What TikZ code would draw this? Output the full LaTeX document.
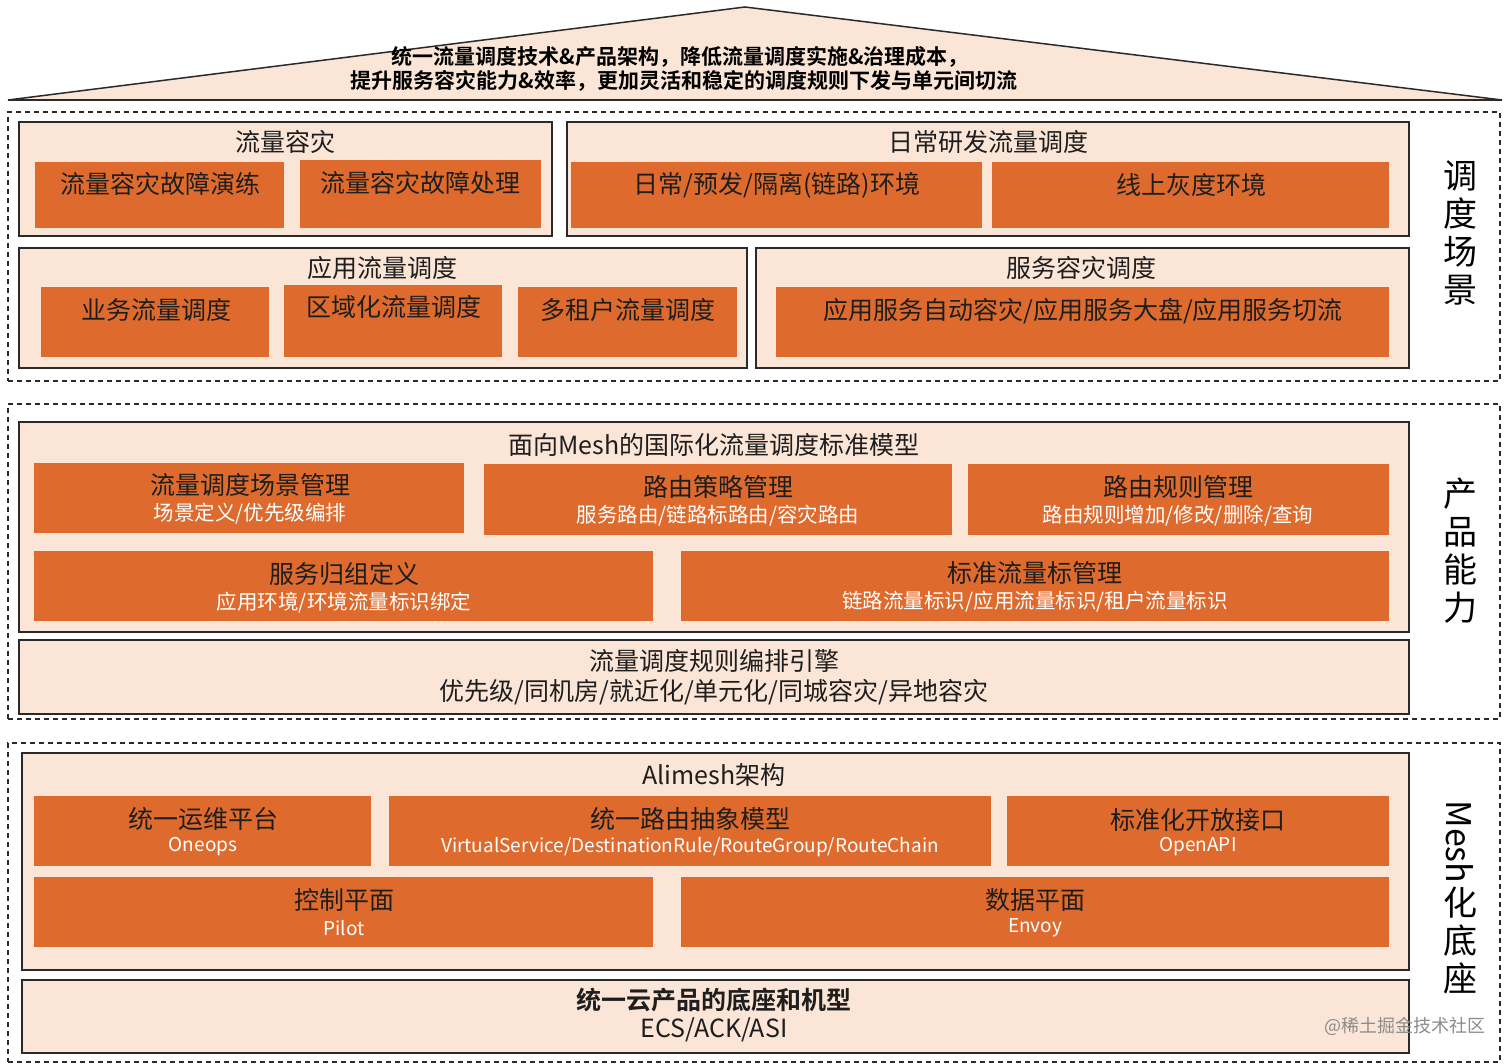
\documentclass[tikz,border=0pt]{standalone}
\usepackage{fontspec}
\setmainfont{Noto Sans CJK SC}[BoldFont={Noto Sans CJK SC Bold}]
\definecolor{peach}{HTML}{FBE5D6}
\definecolor{orng}{HTML}{DE6B2D}
\definecolor{txtdark}{HTML}{1E1E1E}
\definecolor{linegray}{HTML}{2A2A2A}
\newcommand\mybox[6]{\node[#2, anchor=north west, minimum width={#5pt-#3pt}, minimum height={#6pt-#4pt}] (#1) at (#3,#4) {};}
\begin{document}
\begin{tikzpicture}[x=1pt,y=-1pt,
  dbox/.style={draw=linegray, line width=1.3pt, dash pattern=on 5pt off 4pt, inner sep=0pt, outer sep=0pt},
  grp/.style={draw=linegray, line width=1.8pt, fill=peach, inner sep=0pt, outer sep=0pt},
  obox/.style={fill=orng, draw=none, inner sep=0pt, outer sep=0pt},
  ttl/.style={font=\fontsize{25}{29}\selectfont, text=txtdark, inner sep=0pt},
  mtx/.style={font=\fontsize{25}{29}\selectfont, text=txtdark, inner sep=0pt},
  stx/.style={font=\fontsize{20.5}{24}\selectfont, text=white, inner sep=0pt},
  stxl/.style={font=\fontsize{19}{23}\selectfont, text=white, inner sep=0pt},
  side/.style={font=\fontsize{34}{38}\selectfont, text=black, align=center, inner sep=0pt},
  roof/.style={font=\bfseries\fontsize{21}{24}\selectfont, text=black, inner sep=0pt}
]
\useasboundingbox (0,0) rectangle (1512,1064);
\fill[white] (0,0) rectangle (1512,1064);
% roof
\coordinate (rl) at (8,100);
\coordinate (rt) at (745,7);
\coordinate (rr) at (1502,100);
\fill[peach] (rl) -- (rt) -- (rr) -- cycle;
\draw[linegray, line width=1.5pt] (rl) -- (rt) -- (rr);
\draw[linegray, line width=2pt] (rl) -- (rr);
\node[roof] (r1) at (680,57) {统一流量调度技术\&产品架构，降低流量调度实施\&治理成本，};
\node[roof] (r2) at (684,81) {提升服务容灾能力\&效率，更加灵活和稳定的调度规则下发与单元间切流};
% outer dashed sections
\mybox{s1}{dbox}{8}{112}{1500}{381}
\mybox{s2}{dbox}{8}{404}{1500}{719}
\mybox{s3}{dbox}{8}{743}{1500}{1062}
% section 1
\mybox{g11}{grp}{19}{122}{552}{236}
\mybox{g12}{grp}{567}{122}{1409}{236}
\mybox{g13}{grp}{19}{248}{747}{368}
\mybox{g14}{grp}{756}{248}{1409}{368}
\mybox{o1}{obox}{35}{162}{284}{228}
\mybox{o2}{obox}{300}{160}{541}{228}
\mybox{o3}{obox}{571}{162}{982}{228}
\mybox{o4}{obox}{992}{162}{1389}{228}
\mybox{o5}{obox}{41}{287}{269}{357}
\mybox{o6}{obox}{284}{285}{502}{357}
\mybox{o7}{obox}{518}{287}{737}{357}
\mybox{o8}{obox}{776}{287}{1389}{357}
\node[ttl] (t11) at (285,142) {流量容灾};
\node[ttl] (t12) at (988,142) {日常研发流量调度};
\node[mtx] (to1) at (160,184) {流量容灾故障演练};
\node[mtx] (to2) at (420,183) {流量容灾故障处理};
\node[mtx] (to3) at (777,185) {日常/预发/隔离(链路)环境};
\node[mtx] (to4) at (1191,185) {线上灰度环境};
\node[ttl] (t13) at (382,268) {应用流量调度};
\node[ttl] (t14) at (1081,268) {服务容灾调度};
\node[mtx] (to5) at (156,310) {业务流量调度};
\node[mtx] (to6) at (394,307) {区域化流量调度};
\node[mtx] (to7) at (628,310) {多租户流量调度};
\node[mtx] (to8) at (1083,311) {应用服务自动容灾/应用服务大盘/应用服务切流};
\node[side] (l1) at (1460,233) {调\\度\\场\\景};
% section 2
\mybox{g21}{grp}{19}{422}{1409}{632}
\mybox{g22}{grp}{19}{640}{1409}{714}
\mybox{p1}{obox}{34}{463}{464}{533}
\mybox{p2}{obox}{484}{464}{952}{535}
\mybox{p3}{obox}{968}{464}{1389}{535}
\mybox{p4}{obox}{34}{551}{653}{621}
\mybox{p5}{obox}{681}{551}{1389}{621}
\node[ttl] (t21) at (714,445) {面向Mesh的国际化流量调度标准模型};
\node[mtx] (tp1) at (250,485) {流量调度场景管理};
\node[stx] (sp1) at (250,514) {场景定义/优先级编排};
\node[mtx] (tp2) at (718,487) {路由策略管理};
\node[stx] (sp2) at (718,516) {服务路由/链路标路由/容灾路由};
\node[mtx] (tp3) at (1178,487) {路由规则管理};
\node[stx] (sp3) at (1178,516) {路由规则增加/修改/删除/查询};
\node[mtx] (tp4) at (344,574) {服务归组定义};
\node[stx] (sp4) at (344,603) {应用环境/环境流量标识绑定};
\node[mtx] (tp5) at (1035,573) {标准流量标管理};
\node[stx] (sp5) at (1035,602) {链路流量标识/应用流量标识/租户流量标识};
\node[ttl] (t22) at (714,661) {流量调度规则编排引擎};
\node[ttl] (t22b) at (714,692) {优先级/同机房/就近化/单元化/同城容灾/异地容灾};
\node[side] (l2) at (1460,551) {产\\品\\能\\力};
% section 3
\mybox{g31}{grp}{22}{753}{1409}{970}
\mybox{g32}{grp}{22}{980}{1409}{1053}
\mybox{m1}{obox}{34}{796}{371}{866}
\mybox{m2}{obox}{389}{796}{991}{866}
\mybox{m3}{obox}{1007}{796}{1389}{866}
\mybox{m4}{obox}{34}{877}{653}{947}
\mybox{m5}{obox}{681}{877}{1389}{947}
\node[ttl] (t31) at (714,775) {Alimesh架构};
\node[mtx] (tm1) at (203,819) {统一运维平台};
\node[stxl] (sm1) at (203,847) {Oneops};
\node[mtx] (tm2) at (690,819) {统一路由抽象模型};
\node[stxl] (sm2) at (690,847) {VirtualService/DestinationRule/RouteGroup/RouteChain};
\node[mtx] (tm3) at (1198,820) {标准化开放接口};
\node[stxl] (sm3) at (1198,847) {OpenAPI};
\node[mtx] (tm4) at (344,900) {控制平面};
\node[stxl] (sm4) at (344,928) {Pilot};
\node[mtx] (tm5) at (1035,900) {数据平面};
\node[stxl] (sm5) at (1035,928) {Envoy};
\node[ttl, font=\bfseries\fontsize{25}{29}\selectfont] (t32) at (714,1000) {统一云产品的底座和机型};
\node[ttl] (t32b) at (714,1030) {ECS/ACK/ASI};
\node[side, rotate=-90] (l3a) at (1460,842) {Mesh};
\node[side] (l3b) at (1460,941) {化\\底\\座};
\node[font=\fontsize{18}{21}\selectfont, text=black!45, inner sep=0pt] (wm) at (1405,1026) {@稀土掘金技术社区};
\end{tikzpicture}
\end{document}
